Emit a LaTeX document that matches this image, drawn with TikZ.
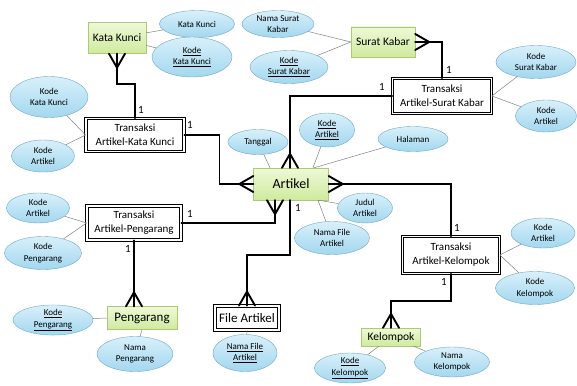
\documentclass[tikz,border=0pt]{standalone}
\usepackage{fontspec}
\setmainfont{Carlito}
\usetikzlibrary{arrows.meta, positioning, shapes.geometric, calc}

\definecolor{entitytop}{HTML}{EEF9D6}
\definecolor{entitybot}{HTML}{CFEA9E}
\definecolor{entityedge}{HTML}{AFC878}
\definecolor{attrtop}{HTML}{D8F0FA}
\definecolor{attrbot}{HTML}{A3D7EF}
\definecolor{attredge}{HTML}{6FA7C7}

% crow's foot at #1, (#2,#3) points away from the entity
\newcommand{\crowsfoot}[3]{%
  \draw[link] ($(#1)+({(#2)*14},{(#3)*14})$) -- ($(#1)+({(#3)*8},{(#2)*8})$);
  \draw[link] ($(#1)+({(#2)*14},{(#3)*14})$) -- ($(#1)+({-(#3)*8},{-(#2)*8})$);}

\begin{document}
\begin{tikzpicture}[x=1pt, y=-1pt,
  entity/.style={rectangle, draw=entityedge, top color=entitytop,
    bottom color=entitybot, inner sep=1pt},
  relation/.style={rectangle, draw=black, line width=0.9pt, double=white,
    double distance=1.5pt, align=center, inner sep=1pt,
    font=\fontsize{11}{14}\selectfont},
  attr/.style={ellipse, draw=attredge, top color=attrtop, bottom color=attrbot,
    inner sep=0pt, align=center, font=\fontsize{9}{11.5}\selectfont},
  link/.style={line width=1.9pt, line cap=round},
  attrline/.style={gray, line width=0.5pt},
  one/.style={inner sep=0pt, font=\fontsize{11}{11}\selectfont}]
  \useasboundingbox (0,0) rectangle (577,385);

  % Entities
  \node[entity, minimum width=58, minimum height=31, font=\fontsize{11.5}{12}\selectfont] (kk) at (117,38) {Kata Kunci};
  \node[entity, minimum width=64, minimum height=30, font=\fontsize{11.5}{12}\selectfont] (sk) at (383,42) {Surat Kabar};
  \node[entity, minimum width=75, minimum height=32, font=\fontsize{14}{14}\selectfont] (art) at (291,184) {Artikel};
  \node[entity, minimum width=70, minimum height=23, font=\fontsize{13}{13}\selectfont] (pg) at (142,318) {Pengarang};
  \node[entity, minimum width=59, minimum height=18, font=\fontsize{11.5}{12}\selectfont] (kl) at (391,337) {Kelompok};

  % Relations
  \node[relation, minimum width=98, minimum height=33] (tkk) at (135,135) {Transaksi\\Artikel-Kata Kunci};
  \node[relation, minimum width=99, minimum height=35] (tsk) at (442,96) {Transaksi\\Artikel-Surat Kabar};
  \node[relation, minimum width=94, minimum height=34] (tp) at (134,223) {Transaksi\\Artikel-Pengarang};
  \node[relation, minimum width=97, minimum height=37] (tkl) at (451,255) {Transaksi\\Artikel-Kelompok};
  \node[relation, minimum width=64, minimum height=24, font=\fontsize{13}{13}\selectfont] (fa) at (247,318) {File Artikel};

  % Attributes
  \node[attr, minimum width=75, minimum height=27] (kk1) at (197,24) {Kata Kunci};
  \node[attr, minimum width=80, minimum height=40] (kk2) at (192,57) {\underline{Kode}\\\underline{Kata Kunci}};
  \node[attr, minimum width=78, minimum height=41] (tkk1) at (49,97) {Kode\\Kata Kunci};
  \node[attr, minimum width=63, minimum height=32] (tkk2) at (43,156) {Kode\\Artikel};
  \node[attr, minimum width=72, minimum height=27] (sk1) at (278,24) {Nama Surat\\Kabar};
  \node[attr, minimum width=78, minimum height=33] (sk2) at (289,67) {\underline{Kode}\\\underline{Surat Kabar}};
  \node[attr, minimum width=80, minimum height=33] (tsk1) at (536,62) {Kode\\Surat Kabar};
  \node[attr, minimum width=61, minimum height=32] (tsk2) at (546,116) {Kode\\Artikel};
  \node[attr, minimum width=60, minimum height=25] (art1) at (258,142) {Tanggal};
  \node[attr, minimum width=55, minimum height=34] (art2) at (327,130) {\underline{Kode}\\\underline{Artikel}};
  \node[attr, minimum width=70, minimum height=25] (art3) at (413,139) {Halaman};
  \node[attr, minimum width=55, minimum height=30] (art4) at (365,208) {Judul\\Artikel};
  \node[attr, minimum width=75, minimum height=33] (art5) at (332,238) {Nama File\\Artikel};
  \node[attr, minimum width=63, minimum height=30] (tp1) at (38,208) {Kode\\Artikel};
  \node[attr, minimum width=77, minimum height=33] (tp2) at (43,253) {Kode\\Pengarang};
  \node[attr, minimum width=80, minimum height=30] (pg1) at (53,320) {\underline{Kode}\\\underline{Pengarang}};
  \node[attr, minimum width=76, minimum height=35] (pg2) at (135,354) {Nama\\Pengarang};
  \node[attr, minimum width=64, minimum height=37] (fa1) at (245,353) {\underline{Nama File}\\\underline{Artikel}};
  \node[attr, minimum width=64, minimum height=30] (tkl1) at (543,233) {Kode\\Artikel};
  \node[attr, minimum width=79, minimum height=33] (tkl2) at (535,288) {Kode\\Kelompok};
  \node[attr, minimum width=71, minimum height=27] (kl1) at (350,368) {\underline{Kode}\\\underline{Kelompok}};
  \node[attr, minimum width=75, minimum height=30] (kl2) at (452,362) {Nama\\Kelompok};

  % Attribute lines
  \draw[attrline] (kk) -- (kk1);
  \draw[attrline] (kk) -- (kk2);
  \draw[attrline] (tkk.west) -- (tkk1);
  \draw[attrline] (tkk.west) -- (tkk2);
  \draw[attrline] (sk.west) -- (sk1);
  \draw[attrline] (sk.west) -- (sk2);
  \draw[attrline] (tsk.east) -- (tsk1);
  \draw[attrline] (tsk.east) -- (tsk2);
  \draw[attrline] (art1) -- ($(art.north)+(-21,0)$);
  \draw[attrline] (art2) -- ($(art.north)+(22,0)$);
  \draw[attrline] (art3) -- ($(art.north)+(23,0)$);
  \draw[attrline] ($(art.south)+(27,0)$) -- (art4);
  \draw[attrline] ($(art.south)+(27,0)$) -- (art5);
  \draw[attrline] (tp.west) -- (tp1);
  \draw[attrline] (tp.west) -- (tp2);
  \draw[attrline] (pg.west) -- (pg1);
  \draw[attrline] (pg.south) -- (pg2);
  \draw[attrline] (fa.south) -- (fa1);
  \draw[attrline] (tkl.east) -- (tkl1);
  \draw[attrline] (tkl.east) -- (tkl2);
  \draw[attrline] (kl) -- (kl1);
  \draw[attrline] (kl) -- (kl2);

  % Relationship links
  \draw[link] (kk.south) -- ++(0,30) -| (tkk.north);
  \crowsfoot{kk.south}{0}{1}
  \draw[link] (tkk.east) -- ++(35,0) |- (art.west);
  \crowsfoot{art.west}{-1}{0}
  \draw[link] (sk.east) -| (tsk.north);
  \crowsfoot{sk.east}{1}{0}
  \draw[link] (tsk.west) -| ($(art.north)+(-1,0)$);
  \crowsfoot{$(art.north)+(-1,0)$}{0}{-1}
  \draw[link] (art.east) -| (tkl.north);
  \crowsfoot{art.east}{1}{0}
  \coordinate (artbl) at ($(art.south)+(-16,0)$);
  \draw[link] (artbl) |- (tp.east);
  \crowsfoot{artbl}{0}{1}
  \draw[link] ($(art.south)+(-1,0)$) -- ++(0,55) -| (fa.north);
  \crowsfoot{fa.north}{0}{-1}
  \coordinate (pgtop) at (tp.south |- pg.north);
  \draw[link] (tp.south) -- (pgtop);
  \crowsfoot{pgtop}{0}{-1}
  \draw[link] (tkl.south) -- ++(0,27) -| (kl.north);
  \crowsfoot{kl.north}{0}{-1}

  % Cardinalities
  \node[one] (c1) at (141,110) {1};
  \node[one] (c2) at (190,125) {1};
  \node[one] (c3) at (449,70) {1};
  \node[one] (c4) at (382,87) {1};
  \node[one] (c5) at (457,228) {1};
  \node[one] (c6) at (190,214) {1};
  \node[one] (c7) at (298,208) {1};
  \node[one] (c8) at (128,249) {1};
  \node[one] (c9) at (444,282) {1};
\end{tikzpicture}
\end{document}
